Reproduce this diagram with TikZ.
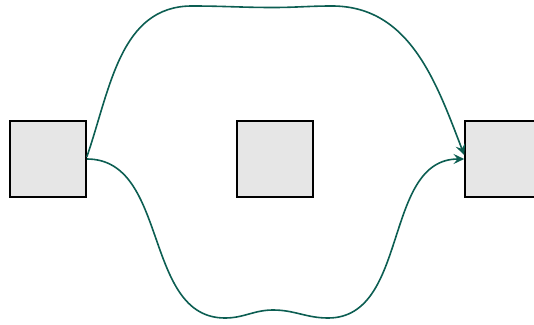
\documentclass[tikz,border=0pt]{standalone}
\usepackage{tikz}
\usetikzlibrary{arrows.meta}
\definecolor{LinkTeal}{RGB}{12,94,82}
\definecolor{BoxGray}{RGB}{230,230,230}

\begin{document}
\begin{tikzpicture}[
            x=0.75pt, y=-0.75pt,
            box/.style={rectangle, draw=black, line width=1.2pt, fill=BoxGray,
                        minimum width=57pt, minimum height=57pt, inner sep=0pt},
            arr/.style={-{Stealth[length=8pt, width=7.5pt, inset=3pt]}, draw=LinkTeal, line width=1.2pt}
          ]
          \useasboundingbox (0,0) rectangle (534,324);

          \node[box] (src)  at (48, 159)  {};
          \node[box] (mid)  at (275, 159) {};
          \node[box] (dst)  at (503, 159) {};

          % way over the top
          \coordinate (tl) at (192, 6);
          \coordinate (tm) at (273, 7.5);
          \coordinate (tr) at (332, 6);
          \draw[arr] ([yshift=1.5pt]src.east) to[out=71, in=180] (tl)
                to[out=0, in=180] (tm) to[out=0, in=180] (tr)
                to[out=0, in=111] ([yshift=3pt]dst.west);

          % way underneath
          \coordinate (bl) at (225, 318);
          \coordinate (bm) at (273, 310);
          \coordinate (br) at (328, 318);
          \draw[arr] (src.east) to[out=0, in=180] (bl)
                to[out=0, in=180] (bm) to[out=0, in=180] (br)
                to[out=0, in=180] (dst.west);
        \end{tikzpicture}
\end{document}
